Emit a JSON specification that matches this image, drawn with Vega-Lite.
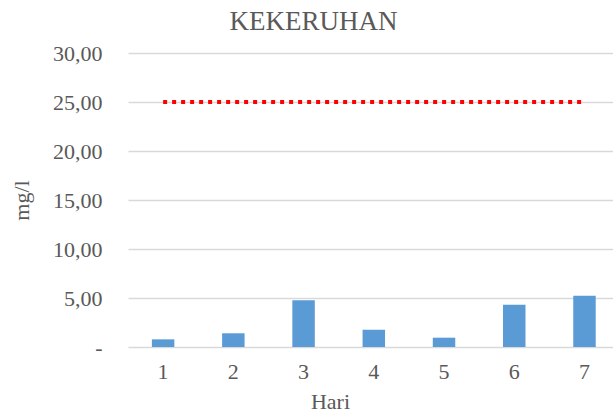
{
  "$schema": "https://vega.github.io/schema/vega-lite/v6.json",
  "width": 485,
  "height": 294,
  "autosize": {"type": "none"},
  "padding": {"left": 128, "top": 53, "right": 0, "bottom": 69},
  "background": "white",
  "config": {
    "view": {"stroke": null},
    "font": "Liberation Serif",
    "axis": {"labelFont": "Liberation Serif", "titleFont": "Liberation Serif", "labelColor": "#595959", "titleColor": "#595959", "titleFontWeight": "normal"}
  },
  "title": {"text": "KEKERUHAN", "font": "Liberation Serif", "fontSize": 27, "fontWeight": "normal", "color": "#595959", "anchor": "middle", "dx": -57, "offset": 6},
  "data": {"values": [
    {"hari": "1", "nilai": 0.78, "standar": 25},
    {"hari": "2", "nilai": 1.4, "standar": 25},
    {"hari": "3", "nilai": 4.76, "standar": 25},
    {"hari": "4", "nilai": 1.77, "standar": 25},
    {"hari": "5", "nilai": 0.95, "standar": 25},
    {"hari": "6", "nilai": 4.32, "standar": 25},
    {"hari": "7", "nilai": 5.24, "standar": 25}
  ]},
  "encoding": {
    "x": {"field": "hari", "type": "ordinal", "title": "Hari",
      "scale": {"range": [0, 491.6], "paddingInner": 0.68, "paddingOuter": 0.34},
      "axis": {"labelAngle": 0, "labelFontSize": 22, "titleFontSize": 22, "ticks": false, "domain": false, "labelPadding": 14, "titlePadding": 9, "titleX": 202}}
  },
  "layer": [
    {
      "mark": {"type": "bar", "color": "#5b9bd5"},
      "encoding": {
        "y": {"field": "nilai", "type": "quantitative", "title": "mg/l",
          "scale": {"domain": [0, 30]},
          "axis": {"values": [0, 5, 10, 15, 20, 25, 30], "labelExpr": "datum.value == 0 ? '-' : replace(format(datum.value, '.2f'), '.', ',')", "labelFontSize": 22, "titleFontSize": 22, "ticks": false, "domain": false, "labelPadding": 26, "gridColor": "#d9d9d9", "gridWidth": 1.5, "titlePadding": 19}}
      }
    },
    {
      "mark": {"type": "line", "color": "#ff0000", "strokeWidth": 4, "strokeDash": [4, 5]},
      "encoding": {"y": {"field": "standar", "type": "quantitative"}}
    }
  ]
}
